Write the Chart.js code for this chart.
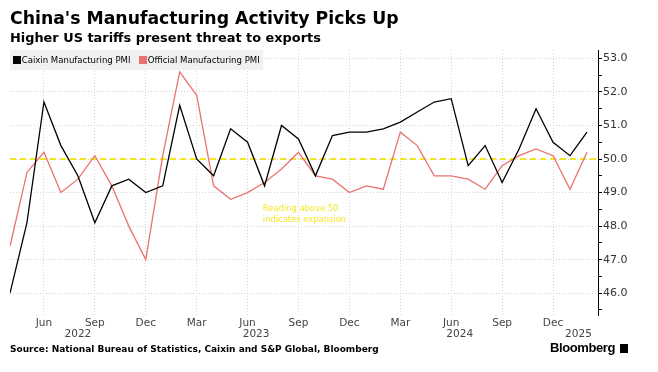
<!DOCTYPE html>
<html>
<head>
<meta charset="utf-8">
<script src="https://cdn.jsdelivr.net/npm/chart.js@4/dist/chart.umd.min.js"></script>
<style>
    body { margin: 0; background: #fff; }
    #wrap { position: relative; width: 658px; height: 372px; overflow: hidden; }
    #chart { position: absolute; left: 0; top: 0; }
    .txt { position: absolute; white-space: nowrap; color: #000; }
    #title { left: 10px; top: 8px; font: bold 17.3px "DejaVu Sans", sans-serif; }
    #subtitle { left: 10px; top: 30px; font: bold 12.9px "DejaVu Sans", sans-serif; }
    #legend { left: 10px; top: 50px; width: 253px; height: 20px; background: #f0f0f0;
              font: 9.5px "DejaVu Sans Condensed", "DejaVu Sans", sans-serif; line-height: 20px; }
    #legend span.sw { display: inline-block; width: 8px; height: 8px; margin: 0 1px 0 0; vertical-align: -0.5px; }
    #source { left: 10px; top: 344px; font: bold 9px "DejaVu Sans", sans-serif; }
    #brand { left: 550px; top: 340px; font: bold 13px "Liberation Sans", Arial, sans-serif; letter-spacing: -0.4px; }
    #brand span { display: inline-block; width: 8px; height: 9px; background: #000; margin-left: 5px; vertical-align: -1px; }
</style>
</head>
<body>
<div id="wrap">
    <canvas id="chart" width="658" height="372"></canvas>
    <div class="txt" id="title">China's Manufacturing Activity Picks Up</div>
    <div class="txt" id="subtitle">Higher US tariffs present threat to exports</div>
    <div class="txt" id="legend">&nbsp;<span class="sw" style="background:#000"></span>Caixin Manufacturing PMI&nbsp;&nbsp;&nbsp;<span class="sw" style="background:#e8736e"></span>Official Manufacturing PMI</div>
    <div class="txt" id="source">Source: National Bureau of Statistics, Caixin and S&amp;P Global, Bloomberg</div>
    <div class="txt" id="brand">Bloomberg<span></span></div>
</div>
<script>
// monthly readings, Apr 2022 .. Feb 2025
const months = [
    "Apr 2022", "May 2022", "Jun 2022", "Jul 2022", "Aug 2022", "Sep 2022", "Oct 2022", "Nov 2022", "Dec 2022",
    "Jan 2023", "Feb 2023", "Mar 2023", "Apr 2023", "May 2023", "Jun 2023", "Jul 2023", "Aug 2023", "Sep 2023",
    "Oct 2023", "Nov 2023", "Dec 2023",
    "Jan 2024", "Feb 2024", "Mar 2024", "Apr 2024", "May 2024", "Jun 2024", "Jul 2024", "Aug 2024", "Sep 2024",
    "Oct 2024", "Nov 2024", "Dec 2024",
    "Jan 2025", "Feb 2025",
];
const caixin = [
    46.0, 48.1, 51.7, 50.4, 49.5, 48.1, 49.2, 49.4, 49.0,
    49.2, 51.6, 50.0, 49.5, 50.9, 50.5, 49.2, 51.0, 50.6, 49.5, 50.7, 50.8,
    50.8, 50.9, 51.1, 51.4, 51.7, 51.8, 49.8, 50.4, 49.3, 50.3, 51.5, 50.5,
    50.1, 50.8,
];
const official = [
    47.4, 49.6, 50.2, 49.0, 49.4, 50.1, 49.2, 48.0, 47.0,
    50.1, 52.6, 51.9, 49.2, 48.8, 49.0, 49.3, 49.7, 50.2, 49.5, 49.4, 49.0,
    49.2, 49.1, 50.8, 50.4, 49.5, 49.5, 49.4, 49.1, 49.8, 50.1, 50.3, 50.1,
    49.1, 50.2,
];
const quarterMonths = ["Mar", "Jun", "Sep", "Dec"];
const yTicks = [46, 47, 48, 49, 50, 51, 52, 53];
const threshold = 50;

const toPoints = (arr) => arr.map((v, i) => ({ x: i, y: v }));

const extras = {
    id: "extras",
    beforeDatasetsDraw(chart) {
        const { ctx, chartArea, scales } = chart;
        const y = scales.y.getPixelForValue(threshold);
        ctx.save();
        ctx.strokeStyle = "#f4e626";
        ctx.lineWidth = 2;
        ctx.setLineDash([6, 4]);
        ctx.beginPath();
        ctx.moveTo(chartArea.left, y);
        ctx.lineTo(chartArea.right, y);
        ctx.stroke();
        ctx.restore();

        ctx.save();
        ctx.fillStyle = "#f4e626";
        ctx.font = '9.3px "DejaVu Sans Condensed", "DejaVu Sans", sans-serif';
        ctx.textBaseline = "middle";
        const ax = scales.x.getPixelForValue(14.9);
        ctx.fillText("Reading above 50", ax, scales.y.getPixelForValue(48.52));
        ctx.fillText("indicates expansion", ax, scales.y.getPixelForValue(48.2));
        ctx.restore();
    },
    afterDraw(chart) {
        const { ctx, scales } = chart;
        const xs = scales.x;
        const years = {};
        months.forEach((m, i) => {
            const yr = m.split(" ")[1];
            if (!years[yr]) years[yr] = [i, i];
            years[yr][1] = i;
        });
        ctx.save();
        ctx.fillStyle = "#444";
        ctx.font = '10.5px "DejaVu Sans", sans-serif';
        ctx.textAlign = "center";
        ctx.textBaseline = "middle";
        Object.keys(years).forEach((yr) => {
            const [a, b] = years[yr];
            const px = (xs.getPixelForValue(a) + xs.getPixelForValue(b)) / 2;
            ctx.fillText(yr, px, 334);
        });
        ctx.restore();
    },
};

new Chart(document.getElementById("chart").getContext("2d"), {
    type: "line",
    data: {
        datasets: [
            {
                label: "Caixin Manufacturing PMI",
                data: toPoints(caixin),
                borderColor: "#000",
                borderWidth: 1.3,
                pointRadius: 0,
                tension: 0,
            },
            {
                label: "Official Manufacturing PMI",
                data: toPoints(official),
                borderColor: "#e8736e",
                borderWidth: 1.3,
                pointRadius: 0,
                tension: 0,
            },
        ],
    },
    options: {
        responsive: false,
        animation: false,
        layout: { padding: { top: 50, left: 10, right: 0, bottom: 0 } },
        plugins: { legend: { display: false }, title: { display: false }, tooltip: { enabled: false } },
        scales: {
            x: {
                type: "linear",
                min: 0,
                max: 34.65,
                afterFit: (s) => { s.height = 57; },
                afterBuildTicks: (s) => {
                    s.ticks = months
                        .map((m, i) => ({ value: i, m: m.split(" ")[0] }))
                        .filter((t) => quarterMonths.includes(t.m))
                        .map((t) => ({ value: t.value }));
                },
                ticks: {
                    autoSkip: false,
                    maxRotation: 0,
                    padding: 2,
                    color: "#444",
                    font: { family: "DejaVu Sans", size: 10.5 },
                    callback: (v) => months[v].split(" ")[0],
                },
                grid: { color: "#d4d4d4", drawTicks: false, lineWidth: 1 },
                border: { display: false, dash: [1, 2] },
            },
            y: {
                position: "right",
                min: 45.35,
                max: 53.25,
                afterFit: (s) => { s.width = 60; },
                afterBuildTicks: (s) => {
                    const t = [];
                    yTicks.forEach((v) => {
                        t.push({ value: v });
                        if (v + 0.5 < 53.25) t.push({ value: v + 0.5 });
                    });
                    t.unshift({ value: 45.5 });
                    s.ticks = t;
                },
                ticks: {
                    padding: 1,
                    color: "#333",
                    font: { family: "DejaVu Sans", size: 11 },
                    callback: (v) => (Number.isInteger(v) ? v.toFixed(1) : ""),
                },
                grid: {
                    color: (c) => (c.tick && Number.isInteger(c.tick.value) ? "#d4d4d4" : "rgba(0,0,0,0)"),
                    tickColor: "#000",
                    tickLength: 4,
                },
                border: { color: "#000", width: 1, dash: [1, 2] },
            },
        },
    },
    plugins: [extras],
});
</script>
</body>
</html>
